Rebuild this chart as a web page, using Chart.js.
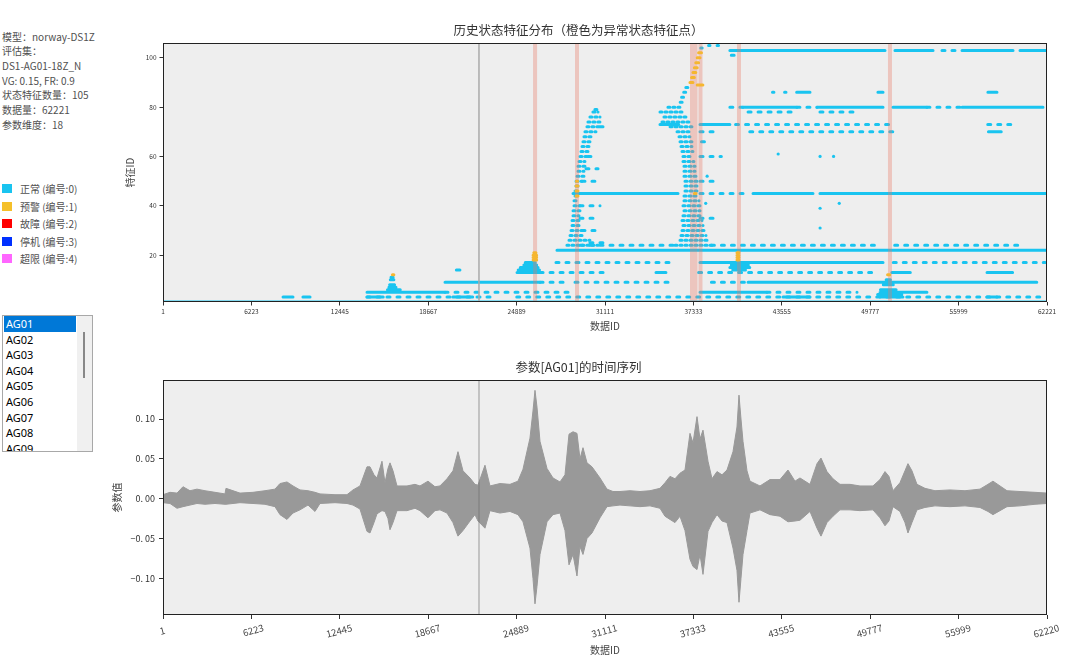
<!DOCTYPE html>
<html>
<head>
<meta charset="utf-8">
<script src="https://cdn.jsdelivr.net/npm/chart.js@4/dist/chart.umd.min.js"></script>
<style>
body { margin: 0; background: #fff; width: 1080px; height: 672px; overflow: hidden; position: relative;
       font-family: "Noto Sans CJK SC", "Noto Sans", sans-serif; }
#info { position: absolute; left: 2px; top: 29.6px; font-size: 10px; line-height: 14.7px; color: #505050; white-space: nowrap; }
#legend { position: absolute; left: 2px; top: 180.2px; font-size: 10px; color: #505050; }
.lg { height: 17.5px; display: flex; align-items: center; white-space: nowrap; }
.sw { width: 10px; height: 9px; margin-right: 8px; }
#plist { position: absolute; left: 2px; top: 315px; width: 89px; height: 135px; border: 1px solid #a8a8a8; overflow: hidden; background: #fff; }
.item { height: 15.6px; line-height: 15.6px; font-size: 11px; font-family: "Noto Sans", sans-serif; color: #000; padding-left: 2px; width: 70px; margin-left: 1px; }
.item.sel { background: #0078d7; color: #fff; }
#sbar { position: absolute; left: 74px; top: 0; width: 15px; height: 135px; background: #f0f0f0; }
#thumb { position: absolute; left: 6px; top: 16px; width: 2px; height: 46px; background: #888; }
.wrap { position: absolute; left: 110px; width: 960px; }
</style>
</head>
<body>
<div id="info"></div>
<div id="legend"></div>
<div id="plist"><div id="sbar"><div id="thumb"></div></div></div>
<div class="wrap" style="top:10px;height:330px;"><canvas id="stateChart"></canvas></div>
<div class="wrap" style="top:350px;height:322px;"><canvas id="seriesChart"></canvas></div>
<script>
// left panel texts
const infoLines = ['模型：norway-DS1Z', '评估集：', 'DS1-AG01-18Z_N', 'VG: 0.15, FR: 0.9', '状态特征数量：105', '数据量：62221', '参数维度：18'];
const stateNames = ['正常 (编号:0)', '预警 (编号:1)', '故障 (编号:2)', '停机 (编号:3)', '超限 (编号:4)'];
const stateColors = ['#19c4f0', '#f5c02a', '#ff0000', '#0030ff', '#ff66ff'];
const paramNames = ['AG01', 'AG02', 'AG03', 'AG04', 'AG05', 'AG06', 'AG07', 'AG08', 'AG09'];

// axis ticks
const featureTicks = [20, 40, 60, 80, 100];
const topXTicks = [1, 6223, 12445, 18667, 24889, 31111, 37333, 43555, 49777, 55999, 62221];
const bottomXTicks = [1, 6223, 12445, 18667, 24889, 31111, 37333, 43555, 49777, 55999, 62220];
const valueTicks = [-0.10, -0.05, 0, 0.05, 0.10];

// marker lines (data id)
const cursorId = 22241;
const alarmIds = [26190, 29140, 37234, 37481, 37832, 40541, 51168];

// state feature runs: [featureId, fromDataId, toDataId]
const denseRuns = [
    [1, 1, 62221],
    [3, 8450, 9150], [3, 9850, 10350], [3, 14360, 15500], [3, 20400, 21800], [3, 43640, 45540], [3, 50470, 52080], [3, 58000, 58700],
    [5, 14360, 19850], [5, 37800, 42510], [5, 50470, 53770],
    [6, 15800, 16700], [7, 15900, 16400], [8, 15950, 16300], [10, 16000, 16250], [11, 16050, 16200],
    [4, 50300, 52000], [6, 50500, 51600], [8, 50700, 51400], [10, 50900, 51200],
    [9, 19850, 26540], [9, 41180, 61500],
    [13, 24920, 26540], [13, 34700, 35400], [13, 51300, 52600], [13, 58000, 59800],
    [14, 25000, 26500], [15, 25150, 26400], [16, 25400, 26300], [17, 25500, 26200], [14, 20650, 20900],
    [14, 40100, 41000], [15, 39900, 41300], [16, 40000, 41200],
    [17, 37800, 50680],
    [22, 27730, 62221],
    [45, 28860, 36250], [45, 41530, 45750], [45, 46240, 62221],
    [70, 58100, 59000],
    [73, 34980, 36300], [73, 37800, 39900],
    [80, 40820, 44620], [80, 46030, 50680], [80, 51380, 53770], [80, 56240, 61940],
    [86, 42900, 43000], [86, 43750, 43850], [86, 44600, 45540], [86, 50320, 50680], [86, 58060, 58700],
    [101, 40000, 40200], [103, 39900, 50820], [103, 51520, 54200], [103, 56240, 59830], [103, 60320, 62221],
    [105, 38400, 38500], [105, 39000, 39100]
];
// the two climbing clusters, speckled
const rampRuns = [
    [24, 28430, 30620], [26, 28575, 30050], [28, 28650, 29700], [30, 28720, 29490], [32, 28790, 29350],
    [34, 28790, 29350], [36, 28860, 29280], [38, 28860, 29350], [40, 28930, 29350], [42, 28930, 29210],
    [44, 29000, 29280], [46, 29000, 29350], [48, 29070, 29420], [50, 29070, 29490], [52, 29140, 29630],
    [54, 29210, 29630], [56, 29210, 29770], [58, 29280, 29700], [60, 29350, 29910], [62, 29420, 30050],
    [64, 29490, 30190], [66, 29560, 30190], [68, 29630, 30330], [70, 29700, 30475], [72, 29840, 30760],
    [74, 29910, 30900], [76, 30050, 30760], [78, 30260, 30620], [79, 30400, 30550],
    [24, 36040, 38640], [26, 36390, 38360], [28, 36460, 38220], [30, 36530, 38150], [32, 36600, 38010],
    [34, 36530, 37940], [36, 36600, 37870], [38, 36670, 37800], [40, 36600, 37800], [42, 36670, 37730],
    [44, 36670, 37660], [46, 36740, 37660], [48, 36740, 37590], [50, 36740, 37590], [52, 36670, 37520],
    [54, 36670, 37450], [56, 36670, 37450], [58, 36600, 37370], [60, 36600, 37300], [62, 36530, 37300],
    [64, 36460, 37230], [66, 36390, 37230], [68, 36320, 37090], [70, 36180, 37090], [72, 35690, 37230],
    [74, 35120, 37090], [76, 35260, 36950], [78, 34980, 36600], [80, 35540, 36390],
    [82, 36400, 36600], [84, 36500, 36750], [86, 36650, 36900], [88, 36800, 37050], [104, 37850, 37950]
];
const sparseRuns = [
    [3, 14360, 23370], [3, 24900, 62000],
    [5, 19850, 28650], [5, 42510, 48850],
    [9, 26540, 28440], [9, 29000, 35700], [9, 38600, 41100],
    [13, 26540, 31000], [13, 37700, 50000],
    [17, 27660, 36000], [17, 51400, 62100],
    [24, 29350, 36000], [24, 38600, 50300], [24, 51500, 60300],
    [45, 37800, 41100],
    [70, 37800, 38900], [70, 41300, 51500],
    [73, 40300, 51500], [73, 58050, 59900],
    [78, 41180, 44340], [78, 46240, 48920],
    [80, 39900, 40820], [80, 44620, 46030], [80, 53770, 56240],
    [103, 54830, 55750],
    [25, 30050, 31250], [30, 29490, 30760], [35, 29350, 30620], [40, 29350, 30760], [50, 29490, 30400],
    [55, 29770, 30620], [60, 29910, 30400], [72, 30760, 31460],
    [35, 37800, 39000], [50, 37800, 38800], [60, 37800, 39300], [66, 37900, 38600]
];
const looseDots = [[43300, 61], [46250, 60], [47200, 60], [38200, 41], [46250, 39], [47600, 41], [46250, 31], [38300, 52]];
const anomalyRuns = [
    [12, 16150, 16250],
    [18, 26050, 26300], [19, 26050, 26300], [20, 26050, 26300], [21, 26100, 26250],
    [44, 29070, 29210], [46, 29070, 29210], [48, 29070, 29210], [50, 29100, 29180],
    [45, 37400, 37520],
    [89, 37600, 38000], [90, 37090, 37300], [92, 37200, 37400], [94, 37300, 37500], [96, 37400, 37600],
    [98, 37500, 37700], [100, 37600, 37800], [102, 37700, 37900],
    [18, 40400, 40540], [19, 40400, 40540], [20, 40400, 40540], [21, 40400, 40540],
    [12, 51000, 51150]
];

// AG01 time series envelope
const seriesIds = [1, 494, 986, 1408, 1900, 2393, 2956, 3660, 4364, 4434, 5420, 6335, 7180, 7883, 8235, 8728, 9150, 9643,
    10206, 10699, 11051, 12107, 12951, 13374, 13866, 14359, 14570, 14851, 15062, 15414, 15625, 15836, 15978, 16189,
    16470, 17174, 17737, 18089, 18652, 19144, 19496, 19989, 20411, 20763, 21115, 21608, 21959, 22170, 22663, 23015,
    23719, 24423, 24986, 25338, 25830, 26041, 26183, 26324, 26535, 27028, 27450, 27943, 28295, 28577, 28859, 29138,
    29350, 29561, 29843, 30195, 30758, 31250, 31673, 32166, 32870, 33573, 34277, 34981, 35333, 35685, 36037, 36389,
    36741, 37093, 37304, 37586, 37797, 38008, 38360, 38641, 38993, 39345, 39697, 40119, 40400, 40541, 40682, 40823,
    41104, 41316, 42019, 42723, 43427, 43990, 44483, 44835, 45539, 46032, 46313, 46735, 47157, 47650, 48354, 49057,
    49972, 50465, 50817, 51098, 51379, 51871, 52224, 52435, 52716, 53068, 53631, 54335, 55391, 56447, 57502, 58065,
    58417, 58910, 59403, 60318, 61374, 62220];
const seriesHigh = [0.005, 0.008, 0.007, 0.015, 0.010, 0.012, 0.010, 0.008, 0.006, 0.013, 0.007, 0.008, 0.010, 0.012, 0.019, 0.021, 0.016, 0.011,
    0.010, 0.008, 0.006, 0.005, 0.005, 0.011, 0.016, 0.040, 0.040, 0.030, 0.026, 0.047, 0.020, 0.038, 0.045, 0.035,
    0.016, 0.016, 0.018, 0.016, 0.022, 0.015, 0.016, 0.025, 0.035, 0.059, 0.035, 0.026, 0.018, 0.017, 0.042, 0.016,
    0.019, 0.018, 0.022, 0.037, 0.076, 0.110, 0.136, 0.115, 0.072, 0.038, 0.026, 0.021, 0.030, 0.081, 0.084, 0.082,
    0.050, 0.064, 0.045, 0.040, 0.026, 0.012, 0.009, 0.009, 0.010, 0.009, 0.010, 0.013, 0.020, 0.028, 0.025, 0.032,
    0.036, 0.082, 0.070, 0.103, 0.075, 0.086, 0.047, 0.025, 0.034, 0.030, 0.036, 0.059, 0.090, 0.130, 0.100, 0.072,
    0.035, 0.022, 0.016, 0.024, 0.024, 0.036, 0.022, 0.026, 0.018, 0.044, 0.051, 0.034, 0.025, 0.018, 0.018, 0.016,
    0.016, 0.024, 0.034, 0.028, 0.010, 0.020, 0.035, 0.044, 0.035, 0.018, 0.013, 0.010, 0.011, 0.010, 0.012, 0.018,
    0.022, 0.016, 0.010, 0.009, 0.008, 0.007];
const seriesLow = [-0.005, -0.006, -0.012, -0.010, -0.008, -0.006, -0.007, -0.006, -0.007, -0.007, -0.005, -0.006, -0.007, -0.010, -0.020, -0.026, -0.018, -0.014,
    -0.008, -0.016, -0.006, -0.005, -0.006, -0.008, -0.013, -0.041, -0.043, -0.030, -0.019, -0.015, -0.016, -0.025, -0.039, -0.030,
    -0.015, -0.015, -0.012, -0.015, -0.024, -0.015, -0.014, -0.018, -0.030, -0.047, -0.040, -0.028, -0.020, -0.028, -0.037, -0.015,
    -0.018, -0.016, -0.020, -0.029, -0.062, -0.100, -0.132, -0.110, -0.070, -0.029, -0.020, -0.018, -0.040, -0.083, -0.070, -0.097,
    -0.060, -0.070, -0.050, -0.043, -0.024, -0.010, -0.009, -0.008, -0.009, -0.010, -0.009, -0.012, -0.022, -0.026, -0.030, -0.022,
    -0.040, -0.076, -0.085, -0.089, -0.070, -0.095, -0.041, -0.030, -0.020, -0.028, -0.030, -0.062, -0.090, -0.130, -0.100, -0.070,
    -0.040, -0.018, -0.014, -0.020, -0.022, -0.029, -0.028, -0.027, -0.016, -0.037, -0.047, -0.030, -0.022, -0.014, -0.014, -0.015,
    -0.014, -0.024, -0.034, -0.028, -0.010, -0.016, -0.030, -0.043, -0.030, -0.014, -0.011, -0.009, -0.010, -0.009, -0.011, -0.016,
    -0.020, -0.015, -0.010, -0.009, -0.007, -0.006];

// ---- left panel ----
document.getElementById('info').innerHTML = infoLines.map(t => '<div>' + t + '</div>').join('');
document.getElementById('legend').innerHTML = stateNames.map((n, i) =>
    '<div class="lg"><span class="sw" style="background:' + stateColors[i] + '"></span>' + n + '</div>').join('');
const plist = document.getElementById('plist');
paramNames.forEach((p, i) => {
    const d = document.createElement('div');
    d.className = 'item' + (i === 0 ? ' sel' : '');
    d.textContent = p;
    plist.appendChild(d);
});

// ---- helpers ----
Chart.defaults.font.family = '"Noto Sans CJK SC", "Noto Sans", sans-serif';
Chart.defaults.color = '#333';
Chart.defaults.animation = false;

// turn [id, from, to] runs into one broken line
function runsToPoints(runs) {
    const pts = [];
    runs.forEach(r => {
        pts.push({ x: r[1], y: r[0] }, { x: r[2], y: r[0] }, { x: r[2], y: null });
    });
    return pts;
}

function verticalLines(ids, lo, hi) {
    const pts = [];
    ids.forEach(id => {
        pts.push({ x: id, y: lo }, { x: id, y: hi }, { x: id, y: null });
    });
    return pts;
}

// plot background and box
const framePlugin = {
    id: 'frame',
    beforeDatasetsDraw(chart) {
        const a = chart.chartArea, ctx = chart.ctx;
        ctx.save();
        ctx.fillStyle = '#eeeeee';
        ctx.fillRect(a.left, a.top, a.right - a.left, a.bottom - a.top);
        ctx.restore();
    },
    afterDraw(chart) {
        const a = chart.chartArea, ctx = chart.ctx;
        ctx.save();
        ctx.strokeStyle = '#222';
        ctx.lineWidth = 1;
        ctx.strokeRect(a.left + 0.5, a.top + 0.5, a.right - a.left - 1, a.bottom - a.top - 1);
        ctx.restore();
    }
};

const lineBase = { pointRadius: 0, tension: 0, spanGaps: false, fill: false };
const cyan = '#19c4f0';

// ---- state feature chart ----
new Chart(document.getElementById('stateChart'), {
    type: 'line',
    data: {
        datasets: [
            Object.assign({ data: runsToPoints(anomalyRuns), borderColor: '#f5b630', borderWidth: 3, borderCapStyle: 'round', order: 0 }, lineBase),
            Object.assign({ data: verticalLines(alarmIds, 1, 106), borderColor: 'rgba(232,120,100,0.35)', borderWidth: 4, borderCapStyle: 'butt', order: 1 }, lineBase),
            Object.assign({ data: verticalLines([cursorId], 1, 106), borderColor: '#aaaaaa', borderWidth: 1.5, borderCapStyle: 'butt', order: 2 }, lineBase),
            Object.assign({ data: runsToPoints(denseRuns), borderColor: cyan, borderWidth: 3, borderCapStyle: 'round', order: 3 }, lineBase),
            Object.assign({ data: runsToPoints(rampRuns), borderColor: cyan, borderWidth: 3, borderCapStyle: 'round', borderDash: [2, 3], order: 4 }, lineBase),
            Object.assign({ data: runsToPoints(sparseRuns), borderColor: cyan, borderWidth: 3, borderCapStyle: 'round', borderDash: [3, 7], order: 5 }, lineBase),
            {
                data: looseDots.map(d => ({ x: d[0], y: d[1] })), showLine: false, pointRadius: 1.6,
                pointBackgroundColor: cyan, pointBorderWidth: 0, order: 6
            }
        ]
    },
    options: {
        responsive: true,
        maintainAspectRatio: false,
        layout: { padding: { left: 0, right: 23, top: 0, bottom: 0 } },
        plugins: {
            legend: { display: false },
            tooltip: { enabled: false },
            title: {
                display: true,
                text: '历史状态特征分布（橙色为异常状态特征点）',
                color: '#333',
                font: { size: 12.5, weight: 'normal' },
                padding: { top: 12.5, bottom: 5.5 }
            }
        },
        scales: {
            x: {
                type: 'linear', min: 1, max: 62221,
                afterBuildTicks: s => { s.ticks = topXTicks.map(v => ({ value: v })); },
                afterFit: s => { s.height = 38; },
                ticks: { font: { size: 6.5 }, color: '#333', padding: 2, maxRotation: 0, autoSkip: false, callback: v => String(v) },
                grid: { drawOnChartArea: false, tickLength: 3.5, color: '#333' },
                border: { display: false },
                title: { display: true, text: '数据ID', color: '#444', font: { size: 10 }, padding: { top: 0, bottom: 8 } }
            },
            y: {
                type: 'linear', min: 1, max: 106,
                afterBuildTicks: s => { s.ticks = featureTicks.map(v => ({ value: v })); },
                afterFit: s => { s.width = 53; },
                ticks: { font: { size: 6.5 }, color: '#333', padding: 3, callback: v => String(v) },
                grid: { drawOnChartArea: false, tickLength: 3.5, color: '#333' },
                border: { display: false },
                title: { display: true, text: '特征ID', color: '#444', font: { size: 10 }, padding: { top: 14, bottom: 0 } }
            }
        }
    },
    plugins: [framePlugin]
});

// ---- AG01 time series chart ----
new Chart(document.getElementById('seriesChart'), {
    type: 'line',
    data: {
        datasets: [
            Object.assign({ data: verticalLines([cursorId], -0.146, 0.149), borderColor: 'rgba(110,110,110,0.45)', borderWidth: 1.5, order: 0 }, lineBase),
            {
                data: seriesIds.map((x, i) => ({ x: x, y: seriesHigh[i] })),
                borderColor: '#999999', backgroundColor: '#999999', borderWidth: 1,
                pointRadius: 0, tension: 0, fill: '+1', order: 1
            },
            {
                data: seriesIds.map((x, i) => ({ x: x, y: seriesLow[i] })),
                borderColor: '#999999', borderWidth: 1, pointRadius: 0, tension: 0, fill: false, order: 2
            }
        ]
    },
    options: {
        responsive: true,
        maintainAspectRatio: false,
        layout: { padding: { left: 0, right: 23, top: 0, bottom: 0 } },
        plugins: {
            legend: { display: false },
            tooltip: { enabled: false },
            filler: { propagate: false },
            title: {
                display: true,
                text: '参数[AG01]的时间序列',
                color: '#333',
                font: { size: 12.5, weight: 'normal' },
                padding: { top: 9.5, bottom: 5.5 }
            }
        },
        scales: {
            x: {
                type: 'linear', min: 1, max: 62220,
                afterBuildTicks: s => { s.ticks = bottomXTicks.map(v => ({ value: v })); },
                afterFit: s => { s.height = 57; },
                ticks: {
                    font: { size: 9.5 }, color: '#444', padding: 3, minRotation: 15, maxRotation: 15, autoSkip: false,
                    labelOffset: 12,
                    callback: v => v === 1 ? '\u2007\u20071\u2007\u2007' : String(v)
                },
                grid: { drawOnChartArea: false, tickLength: 4, color: '#333' },
                border: { display: false },
                title: { display: true, text: '数据ID', color: '#444', font: { size: 10 }, padding: { top: 0, bottom: 16 } }
            },
            y: {
                type: 'linear', min: -0.146, max: 0.149,
                afterBuildTicks: s => { s.ticks = valueTicks.map(v => ({ value: v })); },
                afterFit: s => { s.width = 53; },
                ticks: {
                    font: { size: 9 }, color: '#333', padding: 4,
                    callback: v => (v < 0 ? '\u2212' : '') + Math.abs(v).toFixed(2).replace('.', '. ')
                },
                grid: { drawOnChartArea: false, tickLength: 4, color: '#333' },
                border: { display: false },
                title: { display: true, text: '参数值', color: '#444', font: { size: 10 }, padding: { top: 1, bottom: 0 } }
            }
        }
    },
    plugins: [framePlugin]
});
</script>
</body>
</html>
